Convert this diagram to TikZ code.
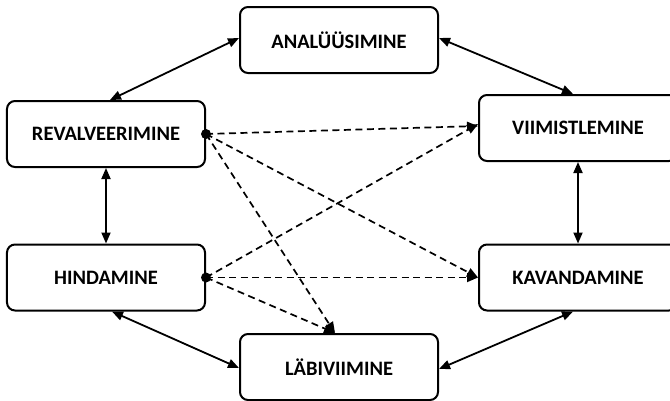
\documentclass[tikz,border=0pt]{standalone}
\usepackage{fontspec}
\setmainfont{Carlito}
\usetikzlibrary{arrows.meta}
\begin{document}
\begin{tikzpicture}[x=1bp,y=-1bp,
  stage/.style={draw, line width=2bp, rounded corners=8bp, minimum width=198bp,
    minimum height=66bp, inner sep=0pt, font=\bfseries\fontsize{20.5bp}{24bp}\selectfont},
  link/.style={line width=1.8bp, {Triangle[length=11bp,width=9bp]}-{Triangle[length=11bp,width=9bp]}},
  dep/.style={line width=1.7bp, dash pattern=on 7bp off 4.5bp, -{Triangle[length=11bp,width=9bp]}},
  dot/.style={circle, fill, inner sep=0pt, minimum size=10bp}]
\clip (0,0) rectangle (670,400);
\useasboundingbox (0,0) rectangle (670,400);
% process stages
\node[stage] (ana) at (339,40) {ANALÜÜSIMINE};
\node[stage] (rev) at (106,134) {REVALVEERIMINE};
\node[stage] (hin) at (106,277.5) {HINDAMINE};
\node[stage] (vii) at (578,128) {VIIMISTLEMINE};
\node[stage] (kav) at (578,277.5) {KAVANDAMINE};
\node[stage] (lab) at (339,367) {LÄBIVIIMINE};
% the cycle
\draw[link] ([yshift=2]ana.west) -- ([xshift=4]rev.north);
\draw[link] ([yshift=2]ana.east) -- ([xshift=-5]vii.north);
\draw[link] (rev.south) -- (hin.north);
\draw[link] (vii.south) -- (kav.north);
\draw[link] ([xshift=6]hin.south) -- ([yshift=-1]lab.west);
\draw[link] ([xshift=-5]kav.south) -- ([yshift=-2]lab.east);
% feedback from evaluation stages
\node[dot] (rd) at (rev.east) {};
\node[dot] (hd) at (hin.east) {};
\draw[dep] (rd.center) -- ([yshift=2]vii.west);
\draw[dep] (rd.center) -- (kav.west);
\draw[dep] (rd.center) -- ([xshift=-4]lab.north);
\draw[dep] (hd.center) -- ([yshift=4]vii.west);
\draw[dep] (hd.center) -- (kav.west);
\draw[dep] (hd.center) -- ([xshift=-4]lab.north);
\end{tikzpicture}
\end{document}
